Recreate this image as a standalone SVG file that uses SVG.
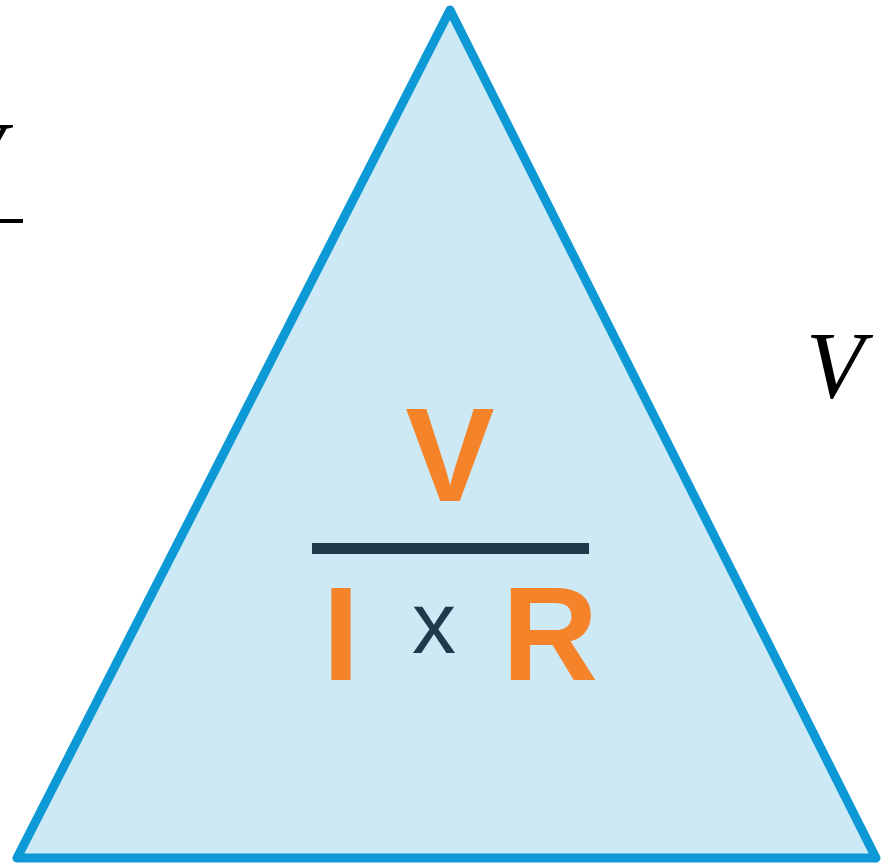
<svg xmlns="http://www.w3.org/2000/svg" width="883" height="866" viewBox="0 0 883 866">
<style>
.ser{font-family:"Liberation Serif","Times New Roman",serif;font-style:italic;fill:#000}
.big{font-family:"Liberation Sans",Arial,sans-serif;font-weight:bold;fill:#f5832a;text-anchor:middle}
.op{font-family:"Liberation Sans",Arial,sans-serif;fill:#1f3a48;text-anchor:middle}
</style>
<rect width="883" height="866" fill="#ffffff"/>
<g id="left-formula">
<text class="ser" x="-54" y="188" font-size="95">V</text>
<rect x="-20" y="219" width="43" height="4" fill="#000"/>
<text class="ser" x="-38" y="320" font-size="95">I</text>
</g>
<g id="right-v">
<text class="ser" x="806" y="398" font-size="95">V</text>
</g>
<g id="triangle">
<polygon points="450,10 17,858 876,858" fill="#cde9f6" stroke="#0c99d5" stroke-width="9" stroke-linejoin="round"/>
</g>
<g id="formula">
<text class="big" x="450" y="501" font-size="134">V</text>
<rect x="312" y="543" width="277" height="11" fill="#1f3a48"/>
<text class="big" x="341" y="680" font-size="133">I</text>
<text class="op" x="434" y="653" font-size="88">x</text>
<text class="big" x="550" y="680" font-size="133">R</text>
</g>
</svg>
